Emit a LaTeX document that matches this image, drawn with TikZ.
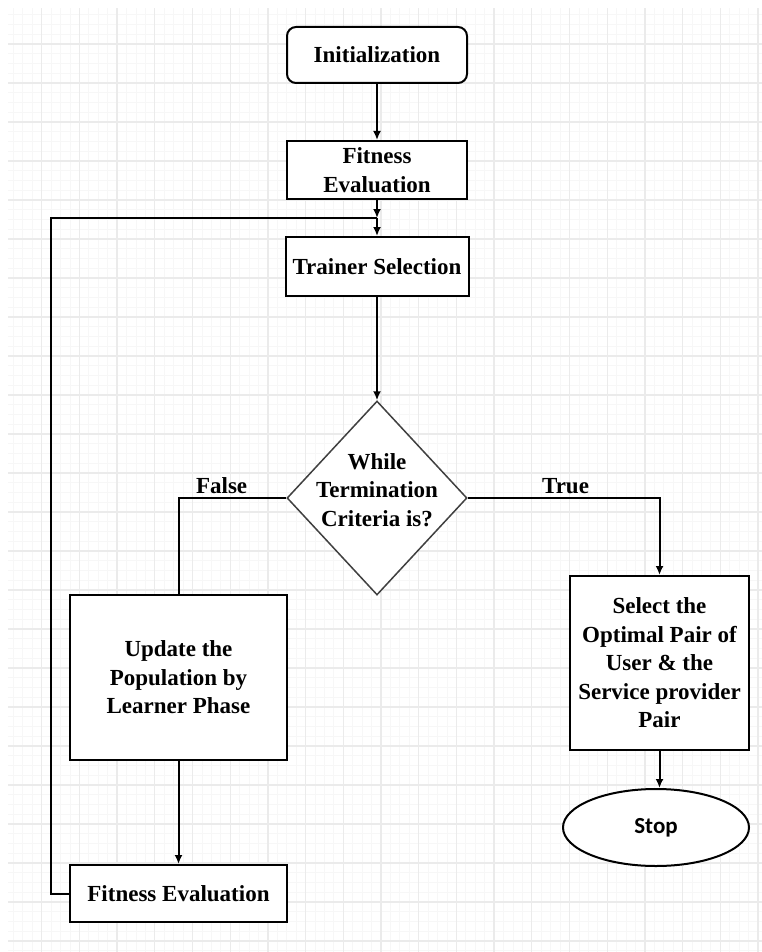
\documentclass[tikz,border=0pt]{standalone}
\usepackage{fontspec}
\setmainfont{Liberation Serif}
\newfontfamily\stopfont{Carlito}
\usetikzlibrary{positioning, arrows.meta, shapes.geometric}

\tikzset{
  box/.style={draw, line width=2pt, fill=white, minimum width=180pt,
    minimum height=58pt, align=center, inner sep=2pt},
  decision/.style={diamond, draw=black!75, line width=1.5pt, fill=white,
    minimum width=180pt, minimum height=194pt, inner sep=0pt},
  terminal/.style={ellipse, draw, line width=2pt, fill=white,
    minimum width=186pt, minimum height=77pt},
  flow/.style={line width=2pt, -{Latex[length=9pt,width=8pt]}},
  plain/.style={line width=2pt},
  branch/.style={above, inner sep=3pt},
}

\begin{document}
\begin{tikzpicture}[x=1pt, y=-1pt, font=\fontsize{23}{28.5}\selectfont\bfseries]
\useasboundingbox (0,0) rectangle (762,952);
\fill[white] (0,0) rectangle (762,952);
% grid paper
\begin{scope}[shift={(4,5)}]
\draw[black!3, line width=0.8pt, xstep=9.425pt, ystep=9.75pt] (4,947) grid (758,3);
\draw[black!8, line width=1.3pt, xstep=37.7pt, ystep=39pt] (4,947) grid (758,3);
\end{scope}

% main column
\node[box, rounded corners=9pt, minimum height=56pt] (init) at (377,55) {Initialization};
\node[box] (fit1) at (377,170) {Fitness\\Evaluation};
\coordinate (j) at (377,218);
\node[box, minimum width=183pt, minimum height=59pt] (trainer) at (377,266.5) {Trainer Selection};
\node[decision, label={[align=center, yshift=8pt]center:While\\Termination\\Criteria is?}] (cond) at (377,498) {};

% false branch
\node[box, minimum width=217pt, minimum height=165pt] (update) at (178.5,677.5) {Update the\\Population by\\Learner Phase};
\node[box, minimum width=217pt, minimum height=57pt] (fit2) at (178.5,893.5) {Fitness Evaluation};

% true branch
\node[box, minimum width=179pt, minimum height=174pt] (select) at (659.5,663) {Select the\\Optimal Pair of\\User \& the\\Service provider\\Pair};
\node[terminal, font=\fontsize{23}{28}\selectfont\stopfont\bfseries] (stop) at (656,827.5) {Stop};

\draw[flow] (init) -- (fit1);
\draw[flow] (fit1) -- (j);
\draw[flow] (j) -- (trainer);
\draw[flow] (trainer) -- (cond);
\draw[plain] (cond.west) -| node[branch, pos=0.3] {False} (update.north);
\draw[flow] (cond.east) -| node[branch, pos=0.255] {True} (select.north);
\draw[flow] (update) -- (fit2);
\draw[flow] (select) -- (select |- stop.north);
% loop back
\draw[plain] (fit2.west) -- ++(-18,0) |- (j);
\end{tikzpicture}
\end{document}
